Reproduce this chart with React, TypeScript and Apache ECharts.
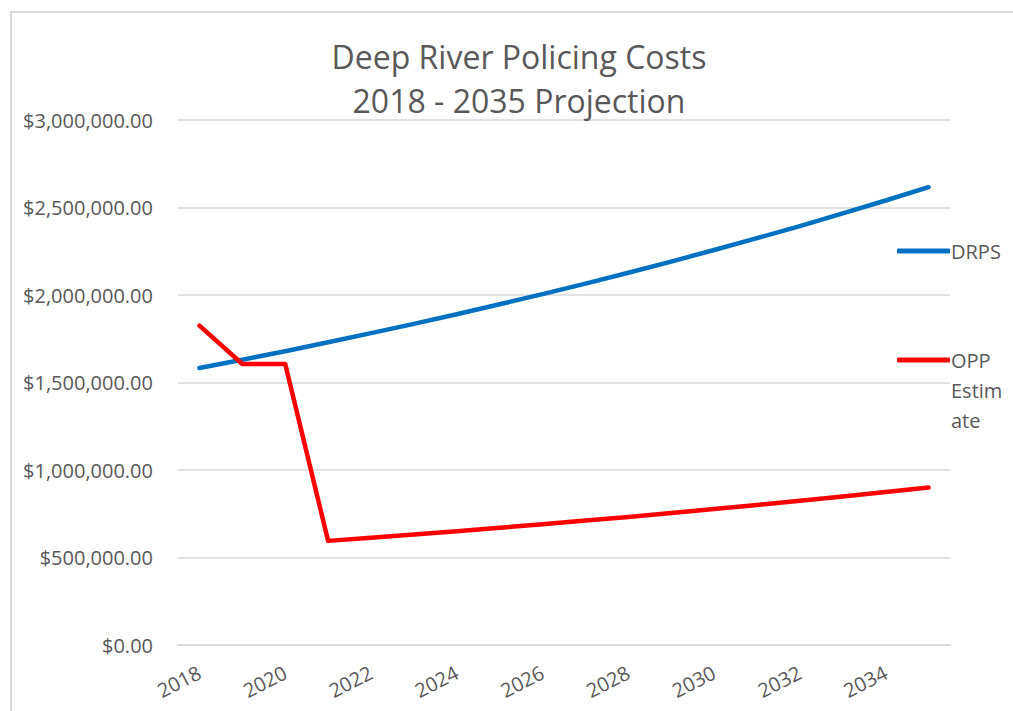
import React, { useEffect, useRef } from "react";
import * as echarts from "echarts";

const years = ["2018","2019","2020","2021","2022","2023","2024","2025","2026","2027","2028","2029","2030","2031","2032","2033","2034","2035"];
const drps = [1583000,1630000,1679000,1730000,1782000,1835000,1890000,1947000,2005000,2065000,2127000,2191000,2257000,2325000,2394000,2466000,2540000,2616000];
const opp = [1825000,1606000,1606000,595000,613000,631000,650000,670000,690000,711000,732000,754000,777000,800000,824000,849000,874000,900000];
const titleLines = ["Deep River Policing Costs", "2018 - 2035 Projection"];
const yMin = 0;
const yMax = 3000000;
const yStep = 500000;

const FONT = "'Open Sans', 'Noto Sans', sans-serif";
const GREY = "#595959";

function fmtMoney(v: number) {
  return "$" + v.toLocaleString("en-US", { minimumFractionDigits: 2, maximumFractionDigits: 2 });
}

export default function App() {
  const ref = useRef<HTMLDivElement>(null);
  useEffect(() => {
    if (!ref.current) return;
    const chart = echarts.init(ref.current, null, { renderer: "svg" });
    chart.setOption({
      animation: false,
      backgroundColor: "#ffffff",
      title: {
        text: titleLines.join("\n"),
        left: 519,
        textAlign: "center",
        top: 34,
        padding: 0,
        textStyle: { fontFamily: FONT, fontSize: 32, fontWeight: "normal", color: GREY, lineHeight: 44 },
      },
      graphic: [
        {
          type: "polyline",
          silent: true,
          shape: { points: [[11, 720], [11, 12], [1020, 12]] },
          style: { stroke: "#D9D9D9", lineWidth: 2, fill: "none" },
        },
      ],
      legend: [
        {
          data: ["DRPS"],
          left: 897,
          top: 236,
          orient: "vertical",
          padding: 0,
          itemWidth: 53,
          itemHeight: 5,
          itemGap: 0,
          icon: "roundRect",
          textStyle: { fontFamily: FONT, fontSize: 20, color: GREY, lineHeight: 30, padding: [0, 0, 0, -4] },
        },
        {
          data: ["OPP Estimate"],
          left: 897,
          top: 285,
          orient: "vertical",
          padding: 0,
          itemWidth: 53,
          itemHeight: 5,
          itemGap: 0,
          icon: "roundRect",
          formatter: () => "\n\nOPP\nEstim\nate",
          textStyle: { fontFamily: FONT, fontSize: 20, color: GREY, lineHeight: 30, padding: [0, 0, 0, -4] },
        },
      ],
      grid: { left: 178, right: 63, top: 120, bottom: 66, containLabel: false },
      xAxis: {
        type: "category",
        data: years,
        boundaryGap: true,
        axisLine: { show: true, lineStyle: { color: "#D9D9D9", width: 1.5 } },
        axisTick: { show: false },
        axisLabel: {
          interval: 1,
          rotate: 27,
          margin: 26,
          fontFamily: FONT,
          fontSize: 20,
          color: GREY,
        },
      },
      yAxis: {
        type: "value",
        min: yMin,
        max: yMax,
        interval: yStep,
        axisLine: { show: false },
        axisTick: { show: false },
        splitLine: { lineStyle: { color: "#D9D9D9", width: 1.5 } },
        axisLabel: {
          margin: 25,
          fontFamily: FONT,
          fontSize: 20,
          color: GREY,
          formatter: (v: number) => fmtMoney(v),
        },
      },
      series: [
        {
          name: "DRPS",
          type: "line",
          data: drps,
          symbol: "none",
          lineStyle: { color: "#0070C0", width: 4.5, cap: "round", join: "round" },
          itemStyle: { color: "#0070C0" },
        },
        {
          name: "OPP Estimate",
          type: "line",
          data: opp,
          symbol: "none",
          lineStyle: { color: "#FF0000", width: 4.5, cap: "round", join: "round" },
          itemStyle: { color: "#FF0000" },
        },
      ],
    });
    return () => chart.dispose();
  }, []);
  return (
    <div
      ref={ref}
      style={{ position: "fixed", left: 0, top: 0, width: 1013, height: 711, background: "#fff" }}
    />
  );
}
